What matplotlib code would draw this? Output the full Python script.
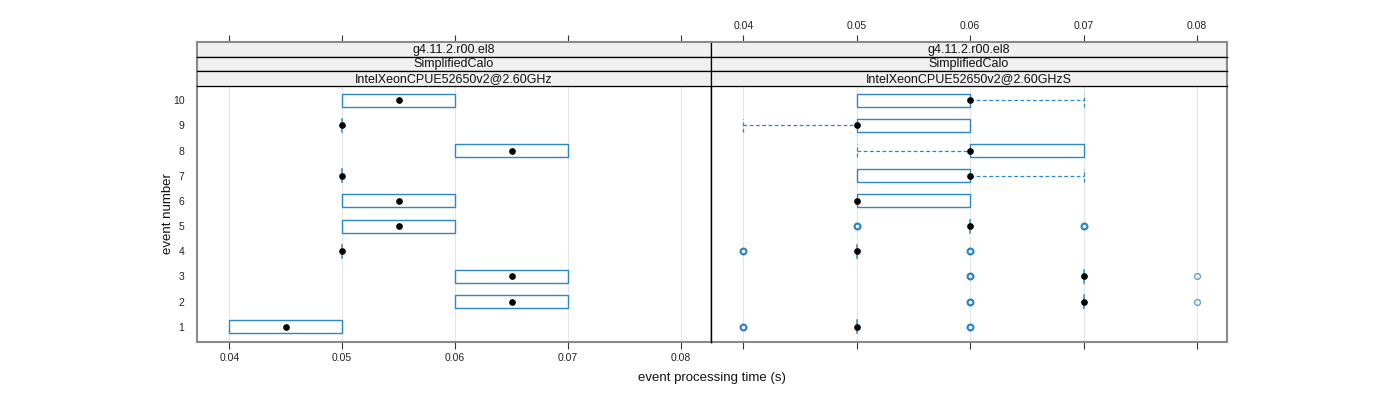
import matplotlib
matplotlib.use("Agg")
import matplotlib.pyplot as plt
from matplotlib.patches import Rectangle
import numpy as np

plt.rcParams['font.family'] = ['Liberation Sans', 'DejaVu Sans']

# data: per event (1..10) box statistics
events = [1, 2, 3, 4, 5, 6, 7, 8, 9, 10]
xticks = [0.04, 0.05, 0.06, 0.07, 0.08]
xtick_labels = ['0.04', '0.05', '0.06', '0.07', '0.08']

strip1 = 'g4.11.2.r00.el8'
strip2 = 'SimplifiedCalo'
left_strip3 = 'IntelXeonCPUE52650v2@2.60GHz'
right_strip3 = 'IntelXeonCPUE52650v2@2.60GHzS'

left_lo = [0.04, 0.06, 0.06, 0.05, 0.05, 0.05, 0.05, 0.06, 0.05, 0.05]
left_q1 = [0.04, 0.06, 0.06, 0.05, 0.05, 0.05, 0.05, 0.06, 0.05, 0.05]
left_med = [0.045, 0.065, 0.065, 0.05, 0.055, 0.055, 0.05, 0.065, 0.05, 0.055]
left_q3 = [0.05, 0.07, 0.07, 0.05, 0.06, 0.06, 0.05, 0.07, 0.05, 0.06]
left_hi = [0.05, 0.07, 0.07, 0.05, 0.06, 0.06, 0.05, 0.07, 0.05, 0.06]
left_out = [[], [], [], [], [], [], [], [], [], []]

right_lo = [0.05, 0.07, 0.07, 0.05, 0.06, 0.05, 0.05, 0.05, 0.04, 0.05]
right_q1 = [0.05, 0.07, 0.07, 0.05, 0.06, 0.05, 0.05, 0.06, 0.05, 0.05]
right_med = [0.05, 0.07, 0.07, 0.05, 0.06, 0.05, 0.06, 0.06, 0.05, 0.06]
right_q3 = [0.05, 0.07, 0.07, 0.05, 0.06, 0.06, 0.06, 0.07, 0.06, 0.06]
right_hi = [0.05, 0.07, 0.07, 0.05, 0.06, 0.06, 0.07, 0.07, 0.06, 0.07]
right_out = [[0.04, 0.04, 0.06, 0.06],
             [0.06, 0.06, 0.08],
             [0.06, 0.06, 0.08],
             [0.04, 0.04, 0.06, 0.06],
             [0.05, 0.05, 0.07, 0.07],
             [], [], [], [], []]

BLUE = '#2b88c6'
OUTC = '#0a74bd'
FRAME = '#8a8a8a'
STRIPBG = '#f0f0f0'
xlim = (0.03715, 0.08265)
ylim = (0.4, 10.56)

fig = plt.figure(figsize=(14, 4), dpi=100)
W, H = 1400.0, 400.0

def fx(px):
    return px / W

def fy(py):
    return 1 - py / H

panel_x = [(197, 711), (711, 1227)]
panel_top, panel_bot = 86, 342
strip_edges = [42, 56.5, 71, 86]

def draw_panel(ax, lo, q1, med, q3, hi, out):
    h = 0.52
    for x in xticks:
        ax.axvline(x, color='#e6e6e6', lw=0.8, zorder=0)
    for i, ev in enumerate(events):
        if q3[i] > q1[i]:
            ax.add_patch(Rectangle((q1[i], ev - h / 2), q3[i] - q1[i], h,
                                   fill=False, edgecolor=BLUE, lw=1.0, zorder=2))
        else:
            ax.plot([q1[i], q1[i]], [ev - h / 2, ev + h / 2], color=BLUE, lw=1.1, zorder=2)
        if lo[i] < q1[i]:
            ax.plot([lo[i], q1[i]], [ev, ev], color=BLUE, lw=0.9, ls=(0, (3, 2)), zorder=2)
            ax.plot([lo[i], lo[i]], [ev - h / 2, ev + h / 2], color=BLUE, lw=0.9, ls=(0, (3, 2)), zorder=2)
        if hi[i] > q3[i]:
            ax.plot([q3[i], hi[i]], [ev, ev], color=BLUE, lw=0.9, ls=(0, (3, 2)), zorder=2)
            ax.plot([hi[i], hi[i]], [ev - h / 2, ev + h / 2], color=BLUE, lw=0.9, ls=(0, (3, 2)), zorder=2)
        for j, v in enumerate(out[i]):
            ax.plot([v], [ev], 'o', mfc='none', mec=OUTC, mew=1.0 + 0.4 * (out[i].count(v) - 1),
                    ms=4.2, alpha=0.65, zorder=3)
        ax.plot([med[i]], [ev], 'o', color='black', ms=3.8, zorder=4)
    ax.set_xlim(*xlim)
    ax.set_ylim(*ylim)
    ax.set_xticks(xticks)
    for s in ax.spines.values():
        s.set_color(FRAME)
        s.set_linewidth(1.5)
    ax.tick_params(axis='x', length=5, width=0.8, color='#333333', labelsize=7.5,
                   pad=3, labelcolor='#222222')

axes = []
for k, (x0, x1) in enumerate(panel_x):
    ax = fig.add_axes([fx(x0), fy(panel_bot), fx(x1 - x0), (panel_bot - panel_top) / H])
    axes.append(ax)

axL, axR = axes
draw_panel(axL, left_lo, left_q1, left_med, left_q3, left_hi, left_out)
draw_panel(axR, right_lo, right_q1, right_med, right_q3, right_hi, right_out)

axL.set_yticks(events)
axL.set_yticklabels([str(e) for e in events])
axL.tick_params(axis='y', length=0, labelsize=7.5, pad=9, labelcolor='#222222')
axL.set_xticklabels(xtick_labels)
axL.spines['right'].set_color('black')
axL.spines['right'].set_linewidth(1.0)
axR.set_yticks([])
axR.set_xticklabels([])
axR.spines['left'].set_color('black')
axR.spines['left'].set_linewidth(1.0)
axR.spines['left'].set_zorder(5)

# strips
strip_texts = [[strip1, strip2, left_strip3], [strip1, strip2, right_strip3]]
for k, (x0, x1) in enumerate(panel_x):
    for j in range(3):
        top, bot = strip_edges[j], strip_edges[j + 1]
        sa = fig.add_axes([fx(x0), fy(bot), fx(x1 - x0), (bot - top) / H])
        sa.set_facecolor(STRIPBG)
        sa.set_xlim(*xlim)
        sa.set_yticks([])
        sa.text(0.5, 0.45, strip_texts[k][j], transform=sa.transAxes,
                ha='center', va='center', fontsize=9, color='#111111')
        for s in sa.spines.values():
            s.set_color('black')
            s.set_linewidth(0.9)
        if j == 0:
            sa.spines['top'].set_color(FRAME)
            sa.spines['top'].set_linewidth(1.5)
            sa.xaxis.set_ticks_position('top')
            sa.set_xticks(xticks)
            sa.tick_params(axis='x', length=5, width=0.8, color='#333333',
                           labelsize=7.5, pad=3, labelcolor='#222222')
            if k == 1:
                sa.set_xticklabels(xtick_labels)
            else:
                sa.set_xticklabels([])
        else:
            sa.set_xticks([])
        if k == 0:
            sa.spines['left'].set_color(FRAME)
            sa.spines['left'].set_linewidth(1.5)
        else:
            sa.spines['right'].set_color(FRAME)
            sa.spines['right'].set_linewidth(1.5)

fig.text(fx(712), fy(378), 'event processing time (s)', ha='center', va='center',
         fontsize=9.5, color='#111111')
fig.text(fx(168), fy(214), 'event number', ha='center', va='center',
         rotation=90, fontsize=9.5, color='#111111')

fig.savefig('out.png', dpi=100)
